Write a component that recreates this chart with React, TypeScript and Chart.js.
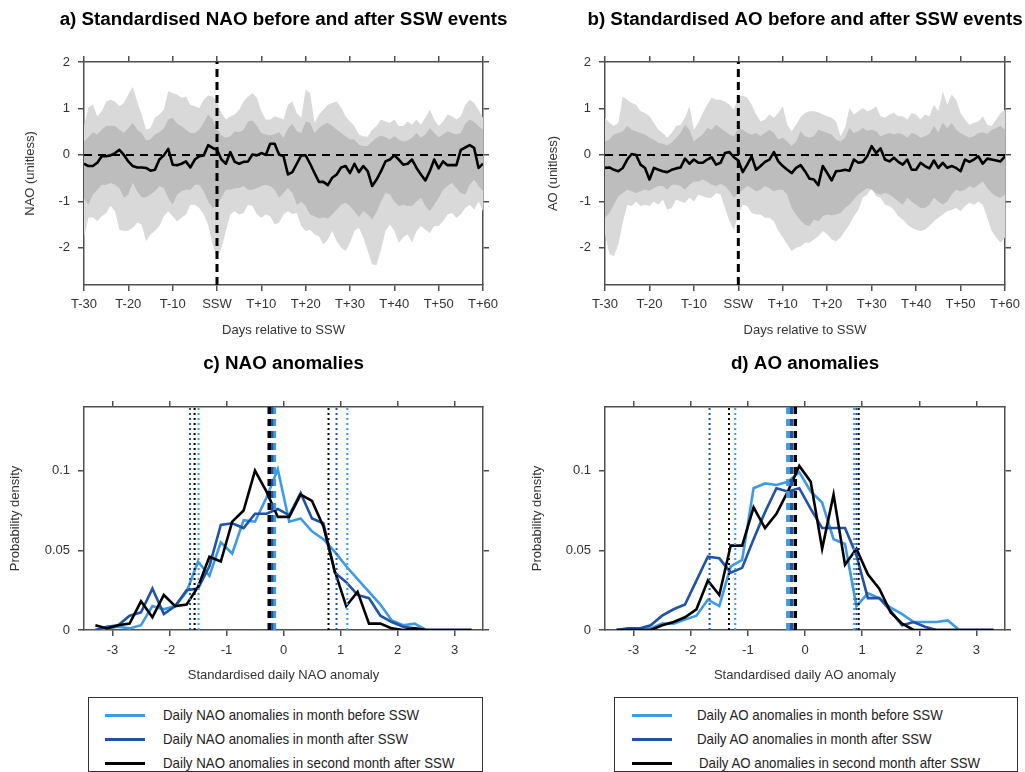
import React, { useEffect, useRef } from 'react';
import { Chart, registerables } from 'chart.js';

Chart.register(...registerables);

// ---------------- data ----------------
const DAYS = Array.from({ length: 91 }, (_, i) => i - 30);
const DAY_TICKS = [-30, -20, -10, 0, 10, 20, 30, 40, 50, 60];
const DAY_TICK_LABELS = ['T-30', 'T-20', 'T-10', 'SSW', 'T+10', 'T+20', 'T+30', 'T+40', 'T+50', 'T+60'];
const TS_Y_TICKS = [-2, -1, 0, 1, 2];
const TS_Y_TICK_LABELS = ['-2', '-1', '0', '1', '2'];
const TS_Y_MIN = -2.8;
const TS_Y_MAX = 2;
const SSW_DAY = 0;

const NAO_MEAN = [
  -0.19, -0.24, -0.24, -0.17, -0.03, -0.03, -0.01, 0.04, 0.11, 0.0,
  -0.14, -0.24, -0.27, -0.27, -0.28, -0.34, -0.32, -0.1, -0.01, 0.13,
  -0.21, -0.22, -0.19, -0.14, -0.27, -0.1, -0.03, -0.01, 0.21, 0.15,
  0.11, -0.1, -0.19, 0.06, -0.15, -0.19, -0.15, -0.14, 0.01, -0.01,
  0.04, 0.0, 0.24, 0.24, 0.01, -0.03, -0.42, -0.37, -0.19, -0.01,
  -0.01, -0.19, -0.39, -0.58, -0.58, -0.65, -0.49, -0.42, -0.27, -0.24,
  -0.39, -0.19, -0.37, -0.24, -0.35, -0.67, -0.53, -0.35, -0.14, -0.1,
  -0.01, -0.1, -0.21, -0.19, -0.1, -0.28, -0.42, -0.55, -0.35, -0.1,
  -0.29, -0.14, -0.22, -0.22, -0.22, 0.11, 0.16, 0.21, 0.15, -0.28,
  -0.19,
];
const NAO_INNER_UP = [
  0.29, 0.38, 0.49, 0.44, 0.54, 0.62, 0.63, 0.62, 0.54, 0.47,
  0.58, 0.69, 0.54, 0.47, 0.31, 0.33, 0.44, 0.49, 0.57, 0.76,
  0.8, 0.67, 0.62, 0.54, 0.47, 0.47, 0.54, 0.69, 0.87, 0.76,
  0.54, 0.42, 0.37, 0.4, 0.51, 0.49, 0.54, 0.72, 0.74, 0.62,
  0.47, 0.44, 0.42, 0.45, 0.49, 0.37, 0.57, 0.67, 0.51, 0.47,
  0.72, 0.69, 0.47, 0.58, 0.65, 0.69, 0.62, 0.54, 0.47, 0.4,
  0.33, 0.33, 0.22, 0.19, 0.19, 0.29, 0.37, 0.42, 0.38, 0.33,
  0.4, 0.33, 0.29, 0.31, 0.37, 0.47, 0.37, 0.44, 0.58, 0.47,
  0.38, 0.44, 0.51, 0.47, 0.44, 0.47, 0.67, 0.76, 0.71, 0.62,
  0.54,
];
const NAO_OUTER_UP = [
  0.62, 1.02, 1.08, 0.83, 0.94, 1.15, 1.19, 1.15, 1.05, 1.12,
  1.3, 1.46, 1.15, 0.87, 0.54, 0.58, 0.8, 0.87, 0.97, 1.37,
  1.33, 1.3, 1.23, 1.26, 1.08, 1.05, 1.01, 1.19, 1.28, 1.26,
  1.15, 0.9, 0.76, 0.83, 0.87, 0.97, 1.15, 1.26, 1.33, 1.23,
  0.94, 0.76, 0.76, 0.83, 0.8, 0.76, 1.08, 1.15, 0.9, 0.8,
  1.41, 1.33, 0.69, 0.87, 0.97, 1.08, 1.12, 1.15, 1.02, 0.83,
  0.72, 0.62, 0.44, 0.4, 0.39, 0.54, 0.62, 0.76, 0.72, 0.69,
  0.76, 0.62, 0.62, 0.72, 0.65, 0.76, 0.65, 0.8, 0.97, 0.76,
  0.62, 0.72, 0.87, 0.83, 0.76, 0.83, 1.08, 1.19, 1.12, 0.97,
  0.8,
];
const NAO_INNER_LO = [
  -0.92, -1.07, -0.85, -0.75, -0.64, -0.65, -0.6, -0.64, -0.72, -0.92,
  -0.85, -0.6, -0.78, -0.91, -0.91, -0.85, -0.78, -0.67, -0.71, -0.92,
  -1.07, -0.85, -0.78, -0.75, -0.75, -0.64, -0.64, -0.78, -1.0, -1.14,
  -1.1, -0.92, -0.75, -0.75, -0.72, -0.71, -0.67, -0.75, -0.75, -0.71,
  -0.67, -0.64, -0.67, -0.75, -0.92, -0.82, -0.71, -0.82, -1.07, -1.0,
  -1.1, -1.28, -1.32, -1.37, -1.34, -1.37, -1.28, -1.18, -1.07, -1.03,
  -1.1, -1.21, -1.34, -1.21, -1.28, -1.39, -1.23, -1.0, -0.82, -0.85,
  -1.0, -1.1, -1.07, -1.1, -1.1, -1.0, -0.92, -1.1, -1.21, -1.07,
  -0.92, -0.75, -0.67, -0.6, -0.71, -0.82, -0.85, -0.64, -0.53, -0.67,
  -0.78,
];
const NAO_OUTER_LO = [
  -1.78, -1.35, -1.34, -1.43, -1.32, -1.25, -1.1, -1.21, -1.61, -1.64,
  -1.63, -1.57, -1.46, -1.5, -1.86, -1.71, -1.64, -1.53, -1.32, -1.21,
  -1.32, -1.43, -1.35, -1.28, -1.07, -1.07, -1.14, -1.28, -1.5, -1.93,
  -2.22, -2.0, -1.64, -1.28, -1.21, -1.28, -1.25, -1.07, -1.1, -1.28,
  -1.35, -1.28, -1.32, -1.5, -1.46, -1.28, -1.21, -1.27, -1.25, -1.53,
  -1.64, -1.61, -1.71, -1.75, -1.93, -1.82, -1.64, -1.86, -2.0, -2.07,
  -1.89, -1.64, -1.57, -1.78, -2.07, -2.36, -2.37, -2.04, -1.64, -1.5,
  -1.64, -1.89, -1.78, -1.71, -1.89, -1.64, -1.53, -1.61, -1.68, -1.53,
  -1.53, -1.43, -1.28, -1.25, -1.35, -1.28, -1.14, -1.07, -1.18, -1.0,
  -1.21,
];

const AO_MEAN = [
  -0.28, -0.27, -0.32, -0.35, -0.28, -0.1, 0.02, 0.0, -0.21, -0.28,
  -0.53, -0.28, -0.32, -0.35, -0.37, -0.32, -0.29, -0.27, -0.08, -0.19,
  -0.1, -0.17, -0.17, -0.1, -0.05, -0.21, -0.17, 0.04, 0.06, -0.05,
  -0.12, -0.37, -0.21, -0.03, -0.32, -0.24, -0.15, -0.1, 0.06, -0.14,
  -0.24, -0.32, -0.39, -0.28, -0.22, -0.35, -0.51, -0.53, -0.65, -0.24,
  -0.39, -0.55, -0.35, -0.34, -0.32, -0.34, -0.1, -0.17, -0.15, -0.03,
  0.19, 0.04, 0.14, -0.1, -0.14, -0.06, -0.15, -0.21, -0.1, -0.32,
  -0.32, -0.17, -0.24, -0.29, -0.12, -0.28, -0.17, -0.28, -0.24, -0.28,
  -0.35, -0.1, -0.15, -0.1, -0.03, -0.19, -0.08, -0.1, -0.12, -0.14,
  -0.03,
];
const AO_INNER_UP = [
  0.29, 0.33, 0.44, 0.47, 0.51, 0.62, 0.54, 0.51, 0.47, 0.44,
  0.37, 0.33, 0.26, 0.24, 0.21, 0.26, 0.37, 0.47, 0.65, 0.54,
  0.29, 0.37, 0.44, 0.58, 0.54, 0.65, 0.58, 0.51, 0.44, 0.4,
  0.58, 0.54, 0.47, 0.44, 0.47, 0.4, 0.47, 0.54, 0.47, 0.33,
  0.37, 0.29, 0.19, 0.29, 0.51, 0.4, 0.37, 0.4, 0.54, 0.51,
  0.47, 0.44, 0.33, 0.29, 0.37, 0.58, 0.47, 0.51, 0.58, 0.52,
  0.54, 0.51, 0.4, 0.44, 0.47, 0.44, 0.47, 0.44, 0.37, 0.47,
  0.44, 0.37, 0.4, 0.45, 0.62, 0.49, 0.69, 0.58, 0.69, 0.54,
  0.47, 0.42, 0.37, 0.4, 0.47, 0.49, 0.45, 0.54, 0.58, 0.62,
  0.54,
];
const AO_OUTER_UP = [
  0.8, 0.69, 0.62, 0.69, 1.26, 1.19, 1.12, 1.08, 0.94, 0.9,
  0.83, 0.69, 0.54, 0.47, 0.37, 0.47, 0.62, 0.65, 0.8, 1.05,
  0.54, 0.69, 0.9, 1.08, 1.23, 1.19, 1.19, 1.15, 1.08, 0.97,
  1.26, 1.28, 1.23, 1.08, 0.87, 0.72, 0.76, 0.87, 0.8, 0.9,
  1.05, 0.65, 0.51, 0.65, 0.81, 0.9, 0.94, 0.94, 0.92, 0.87,
  0.83, 0.8, 0.72, 0.4, 0.58, 1.01, 0.87, 0.94, 1.01, 0.94,
  0.97, 1.05, 0.83, 0.8, 0.87, 0.9, 0.83, 0.83, 0.76, 0.9,
  0.87, 0.76, 0.87, 0.83, 1.08, 0.94, 1.37, 1.08, 1.3, 1.19,
  0.9, 0.76, 0.65, 0.69, 0.72, 0.83, 0.65, 0.62, 0.76, 0.9,
  0.97,
];
const AO_INNER_LO = [
  -1.35, -1.25, -1.07, -0.89, -0.82, -0.75, -0.78, -0.82, -0.78, -0.75,
  -0.77, -0.72, -0.67, -0.67, -0.75, -0.64, -0.64, -0.67, -0.75, -0.64,
  -0.57, -0.58, -0.53, -0.58, -0.64, -0.67, -0.62, -0.67, -0.78, -0.92,
  -0.82, -0.75, -0.67, -0.72, -0.78, -0.75, -0.67, -0.72, -0.78, -0.75,
  -0.75, -0.85, -1.14, -1.28, -1.41, -1.5, -1.53, -1.39, -1.43, -1.32,
  -1.28, -1.3, -1.28, -1.25, -1.14, -1.07, -0.96, -0.85, -0.78, -0.71,
  -0.75, -0.82, -0.85, -0.82, -0.85, -0.92, -1.0, -1.07, -0.92, -1.0,
  -1.07, -1.14, -1.14, -1.07, -0.92, -1.0, -1.07, -1.0, -0.85, -0.75,
  -0.78, -0.75, -0.67, -0.71, -0.64, -0.57, -0.71, -0.82, -0.89, -0.92,
  -0.85,
];
const AO_OUTER_LO = [
  -1.71, -2.14, -2.18, -1.93, -1.46, -1.07, -1.1, -1.0, -1.1, -1.07,
  -1.1, -1.0, -1.07, -0.96, -1.18, -1.14, -0.96, -1.0, -1.03, -0.92,
  -1.0, -0.85, -0.89, -0.92, -0.92, -0.82, -0.85, -1.14, -1.43, -1.61,
  -1.28, -1.07, -1.1, -1.25, -1.28, -1.28, -1.35, -1.35, -1.43, -1.64,
  -1.78, -1.93, -2.07, -2.0, -1.97, -1.89, -1.89, -1.82, -1.75, -1.64,
  -1.71, -1.82, -1.86, -1.78, -1.64, -1.5, -1.32, -1.18, -0.92, -0.85,
  -0.71, -0.89, -0.92, -1.07, -1.1, -1.18, -1.32, -1.39, -1.5, -1.57,
  -1.61, -1.64, -1.61, -1.53, -1.43, -1.35, -1.28, -1.21, -1.18, -1.14,
  -1.21, -1.1, -1.03, -1.07, -1.0, -1.07, -1.35, -1.64, -1.78, -1.89,
  -1.78,
];

// PDFs
const PDF_BINS = [
  -3.3, -3.1, -2.9, -2.7, -2.5, -2.3, -2.1, -1.9, -1.7, -1.5, -1.3, -1.1, -0.9, -0.7, -0.5, -0.3, -0.1,
  0.1, 0.3, 0.5, 0.7, 0.9, 1.1, 1.3, 1.5, 1.7, 1.9, 2.1, 2.3, 2.5, 2.7, 2.9, 3.1, 3.3,
];
const PDF_X_TICKS = [-3, -2, -1, 0, 1, 2, 3];
const PDF_X_TICK_LABELS = ['-3', '-2', '-1', '0', '1', '2', '3'];
const PDF_Y_TICKS = [0, 0.05, 0.1];
const PDF_Y_TICK_LABELS = ['0', '0.05', '0.1'];
const PDF_X_MIN = -3.5;
const PDF_X_MAX = 3.5;
const PDF_Y_MIN = 0;
const PDF_Y_MAX = 0.14;

const NAO_BEFORE = [
  0.0, 0.001, 0.002, 0.001, 0.003, 0.015, 0.013, 0.015, 0.024, 0.043,
  0.034, 0.055, 0.048, 0.069, 0.068, 0.083, 0.101, 0.068, 0.07, 0.062,
  0.057, 0.049, 0.04, 0.032, 0.024, 0.016, 0.006, 0.003, 0.004, 0.0,
  0, 0, 0, 0,
];
const NAO_AFTER = [
  0.0, 0.002, 0.003, 0.009, 0.011, 0.026, 0.01, 0.015, 0.025, 0.026,
  0.04, 0.066, 0.067, 0.064, 0.073, 0.073, 0.076, 0.072, 0.086, 0.07,
  0.067, 0.036, 0.03, 0.022, 0.02, 0.009, 0.005, 0.002, 0.001, 0,
  0, 0, 0, 0,
];
const NAO_SECOND = [
  0.003, 0.001, 0.003, 0.004, 0.018, 0.008, 0.022, 0.015, 0.016, 0.027,
  0.046, 0.043, 0.068, 0.075, 0.1, 0.087, 0.071, 0.071, 0.085, 0.081,
  0.065, 0.037, 0.015, 0.024, 0.004, 0.004, 0.001, 0.0, 0.001, 0,
  0, 0, 0, 0,
];
const AO_BEFORE = [
  0, 0, 0.001, 0.001, 0.004, 0.004, 0.0065, 0.009, 0.019, 0.015,
  0.04, 0.044, 0.089, 0.092, 0.091, 0.093, 0.099, 0.087, 0.08, 0.057,
  0.054, 0.015, 0.023, 0.02, 0.014, 0.01, 0.005, 0.005, 0.005, 0.006,
  0, 0, 0, 0,
];
const AO_AFTER = [
  0, 0.001, 0.001, 0.003, 0.009, 0.013, 0.016, 0.031, 0.046, 0.045,
  0.036, 0.039, 0.057, 0.074, 0.089, 0.087, 0.089, 0.076, 0.064, 0.064,
  0.064, 0.047, 0.02, 0.02, 0.012, 0.003, 0.005, 0.002, 0, 0,
  0, 0, 0, 0,
];
const AO_SECOND = [
  0, 0, 0, 0, 0.003, 0.005, 0.008, 0.013, 0.031, 0.022,
  0.053, 0.053, 0.077, 0.064, 0.073, 0.087, 0.103, 0.093, 0.051, 0.085,
  0.041, 0.051, 0.035, 0.026, 0.011, 0.004, 0, 0, 0, 0,
  0, 0, 0, 0,
];

// [before, after, second month after]
const NAO_MEANS = [-0.16, -0.21, -0.25];
const NAO_LOWER = [-1.49, -1.64, -1.56];
const NAO_UPPER = [1.12, 0.93, 0.79];
const AO_MEANS = [-0.3, -0.24, -0.17];
const AO_LOWER = [-1.22, -1.67, -1.33];
const AO_UPPER = [0.86, 0.9, 0.94];

const LEGEND_NAO = [
  'Daily NAO anomalies in month before SSW',
  'Daily NAO anomalies in month after SSW',
  'Daily NAO anomalies in second month after SSW',
];
const LEGEND_AO = [
  'Daily AO anomalies in month before SSW',
  'Daily AO anomalies in month after SSW',
  'Daily AO anomalies in second month after SSW',
];

// ---------------- styles ----------------
const FONT = "'Liberation Sans', Arial, Helvetica, sans-serif";
const FRAME = '#4f4f4f';
const TEXT = '#333333';
const OUTER_GREY = '#d9d9d9';
const INNER_GREY = '#bdbdbd';
const LIGHT_BLUE = '#3b9be8';
const DARK_BLUE = '#1f53a8';
const BLACK = '#000000';
const SERIES_COLORS = [LIGHT_BLUE, DARK_BLUE, BLACK];

const TITLE_SIZE = 18.8;
const TITLE_LH = TITLE_SIZE * 1.2;

function toPts(xs: number[], ys: number[]) {
  return ys.map((y, i) => ({ x: xs[i], y }));
}

function fixedTicks(values: number[]) {
  return (scale: any) => {
    scale.ticks = values.map((v) => ({ value: v }));
  };
}

interface AxisSpec {
  xMin: number; xMax: number; xTicks: number[]; xLabels: string[]; xTitle: string;
  yMin: number; yMax: number; yTicks: number[]; yLabels: string[]; yTitle: string;
  leftW: number; rightW: number; topH: number; bottomH: number;
  titlePadTop: number; xLabelPad: number; xTitlePad: number; yTitlePad: number;
}

function makeScales(o: AxisSpec) {
  const grid = { drawOnChartArea: false, drawTicks: true, tickLength: 6, color: FRAME, lineWidth: 1.5 };
  const border = { display: true, color: FRAME, width: 1.5 };
  const tickFont = { family: FONT, size: 13 };
  const titleFont = { family: FONT, size: 13 };
  return {
    x: {
      type: 'linear', axis: 'x', position: 'bottom', min: o.xMin, max: o.xMax, z: 1, grid, border,
      afterBuildTicks: fixedTicks(o.xTicks),
      ticks: {
        autoSkip: false, maxRotation: 0, minRotation: 0, padding: o.xLabelPad, color: TEXT, font: tickFont,
        callback: (_v: any, i: number) => o.xLabels[i],
      },
      title: { display: true, text: o.xTitle, color: TEXT, font: titleFont, padding: { top: 0, bottom: o.xTitlePad } },
      afterFit: (s: any) => { s.height = o.bottomH; },
    },
    xTop: {
      type: 'linear', axis: 'x', position: 'top', min: o.xMin, max: o.xMax, z: 1, grid, border,
      afterBuildTicks: fixedTicks(o.xTicks),
      ticks: { display: false },
      afterFit: (s: any) => { s.height = o.topH - (o.titlePadTop + TITLE_LH); },
    },
    y: {
      type: 'linear', axis: 'y', position: 'left', min: o.yMin, max: o.yMax, z: 1, grid, border,
      afterBuildTicks: fixedTicks(o.yTicks),
      ticks: {
        autoSkip: false, padding: 8, color: TEXT, font: tickFont,
        callback: (_v: any, i: number) => o.yLabels[i],
      },
      title: { display: true, text: o.yTitle, color: TEXT, font: titleFont, padding: { top: o.yTitlePad, bottom: 0 } },
      afterFit: (s: any) => { s.width = o.leftW; },
    },
    yRight: {
      type: 'linear', axis: 'y', position: 'right', min: o.yMin, max: o.yMax, z: 1, grid, border,
      afterBuildTicks: fixedTicks(o.yTicks),
      ticks: { display: false },
      afterFit: (s: any) => { s.width = o.rightW; },
    },
  };
}

function baseOptions(title: string, titlePadTop: number, scales: any) {
  return {
    responsive: false,
    animation: false,
    devicePixelRatio: 1,
    events: [],
    layout: { padding: 0 },
    plugins: {
      legend: { display: false },
      tooltip: { enabled: false },
      title: {
        display: true, text: title, fullSize: true, color: '#000',
        font: { family: FONT, size: TITLE_SIZE, weight: 'bold', lineHeight: 1.2 },
        padding: { top: titlePadTop, bottom: 0 },
      },
    },
    scales,
  };
}

const hidden = { borderColor: 'rgba(0,0,0,0)', borderWidth: 0, pointRadius: 0 };

function tsConfig(p: {
  title: string; yTitle: string; mean: number[]; innerUp: number[]; innerLo: number[];
  outerUp: number[]; outerLo: number[]; leftW: number; rightW: number; yTitlePad: number;
}) {
  const titlePadTop = 19.5 - TITLE_LH / 2;
  const scales = makeScales({
    xMin: DAYS[0], xMax: DAYS[DAYS.length - 1], xTicks: DAY_TICKS, xLabels: DAY_TICK_LABELS, xTitle: 'Days relative to SSW',
    yMin: TS_Y_MIN, yMax: TS_Y_MAX, yTicks: TS_Y_TICKS, yLabels: TS_Y_TICK_LABELS, yTitle: p.yTitle,
    leftW: p.leftW, rightW: p.rightW, topH: 62, bottomH: 55,
    titlePadTop, xLabelPad: 5.2, xTitlePad: 2.2, yTitlePad: p.yTitlePad,
  });
  return {
    type: 'line',
    data: {
      datasets: [
        { data: toPts(DAYS, p.mean), borderColor: BLACK, borderWidth: 2.6, pointRadius: 0, fill: false, tension: 0, borderJoinStyle: 'round' },
        { data: [{ x: DAYS[0], y: 0 }, { x: DAYS[DAYS.length - 1], y: 0 }], borderColor: BLACK, borderWidth: 2, borderDash: [8, 6], pointRadius: 0, fill: false },
        { data: [{ x: SSW_DAY, y: TS_Y_MIN }, { x: SSW_DAY, y: TS_Y_MAX }], borderColor: BLACK, borderWidth: 3, borderDash: [8, 5], pointRadius: 0, fill: false },
        { data: toPts(DAYS, p.innerUp), ...hidden, fill: 4, backgroundColor: INNER_GREY },
        { data: toPts(DAYS, p.innerLo), ...hidden, fill: false },
        { data: toPts(DAYS, p.outerUp), ...hidden, fill: 6, backgroundColor: OUTER_GREY },
        { data: toPts(DAYS, p.outerLo), ...hidden, fill: false },
      ],
    },
    options: baseOptions(p.title, titlePadTop, scales),
  };
}

function pdfConfig(p: {
  title: string; xTitle: string; series: number[][]; means: number[]; lower: number[]; upper: number[];
  leftW: number; rightW: number; yTitlePad: number;
}) {
  const titlePadTop = 24 - TITLE_LH / 2;
  const scales = makeScales({
    xMin: PDF_X_MIN, xMax: PDF_X_MAX, xTicks: PDF_X_TICKS, xLabels: PDF_X_TICK_LABELS, xTitle: p.xTitle,
    yMin: PDF_Y_MIN, yMax: PDF_Y_MAX, yTicks: PDF_Y_TICKS, yLabels: PDF_Y_TICK_LABELS, yTitle: 'Probability density',
    leftW: p.leftW, rightW: p.rightW, topH: 67, bottomH: 60,
    titlePadTop, xLabelPad: 6.2, xTitlePad: 7.2, yTitlePad: p.yTitlePad,
  });
  const vline = (x: number, color: string, dashed: boolean) => ({
    data: [{ x, y: PDF_Y_MIN }, { x, y: PDF_Y_MAX }],
    borderColor: color,
    borderWidth: dashed ? 3.5 : 2,
    borderDash: dashed ? [7, 5] : [2, 3],
    borderCapStyle: 'butt',
    pointRadius: 0,
    fill: false,
  });
  const datasets: any[] = [];
  // draw order: dataset 0 on top
  [2, 1, 0].forEach((k) => datasets.push(vline(p.means[k], SERIES_COLORS[k], true)));
  [2, 1, 0].forEach((k) => datasets.push(vline(p.lower[k], SERIES_COLORS[k], false)));
  [2, 1, 0].forEach((k) => datasets.push(vline(p.upper[k], SERIES_COLORS[k], false)));
  [2, 1, 0].forEach((k) =>
    datasets.push({
      data: toPts(PDF_BINS, p.series[k]), borderColor: SERIES_COLORS[k], borderWidth: 2.6,
      pointRadius: 0, fill: false, tension: 0, borderJoinStyle: 'miter',
    }),
  );
  return { type: 'line', data: { datasets }, options: baseOptions(p.title, titlePadTop, scales) };
}

function ChartCanvas({ config, left, top, width, height }: { config: any; left: number; top: number; width: number; height: number }) {
  const ref = useRef<HTMLCanvasElement | null>(null);
  useEffect(() => {
    if (!ref.current) return;
    const chart = new Chart(ref.current, config);
    return () => chart.destroy();
  }, [config]);
  return (
    <canvas
      ref={ref}
      width={width}
      height={height}
      style={{ position: 'absolute', left, top, width, height, display: 'block' }}
    />
  );
}

function LegendBox({ left, top, width, height, labels, sampleX, textX, textX3 }: {
  left: number; top: number; width: number; height: number; labels: string[]; sampleX: number; textX: number; textX3: number;
}) {
  const rows = [17, 41, 65];
  return (
    <div
      style={{
        position: 'absolute', left, top, width, height, boxSizing: 'border-box',
        border: '1.5px solid #333', background: '#fff',
      }}
    >
      {labels.map((lab, i) => (
        <React.Fragment key={i}>
          <div
            style={{
              position: 'absolute', left: sampleX, top: rows[i] - 1.5, width: 40, height: 3,
              background: SERIES_COLORS[i],
            }}
          />
          <div
            style={{
              position: 'absolute', left: i === 2 ? textX3 : textX, top: rows[i] - 9, height: 18, lineHeight: '18px',
              fontFamily: FONT, fontSize: 15, color: '#222', whiteSpace: 'nowrap',
              transform: 'scaleX(0.885)', transformOrigin: 'left center',
            }}
          >
            {lab}
          </div>
        </React.Fragment>
      ))}
    </div>
  );
}

// canvases are sized so that their centre equals the plot-area centre (titles centred over plots)
const CFG_A = tsConfig({
  title: 'a) Standardised NAO before and after SSW events', yTitle: 'NAO (unitless)',
  mean: NAO_MEAN, innerUp: NAO_INNER_UP, innerLo: NAO_INNER_LO, outerUp: NAO_OUTER_UP, outerLo: NAO_OUTER_LO,
  leftW: 84, rightW: 84, yTitlePad: 22.2,
});
const CFG_B = tsConfig({
  title: 'b) Standardised AO before and after SSW events', yTitle: 'AO (unitless)',
  mean: AO_MEAN, innerUp: AO_INNER_UP, innerLo: AO_INNER_LO, outerUp: AO_OUTER_UP, outerLo: AO_OUTER_LO,
  leftW: 93, rightW: 93, yTitlePad: 33.2,
});
const CFG_C = pdfConfig({
  title: 'c) NAO anomalies', xTitle: 'Standardised daily NAO anomaly',
  series: [NAO_BEFORE, NAO_AFTER, NAO_SECOND], means: NAO_MEANS, lower: NAO_LOWER, upper: NAO_UPPER,
  leftW: 84, rightW: 84, yTitlePad: 7.7,
});
const CFG_D = pdfConfig({
  title: 'd) AO anomalies', xTitle: 'Standardised daily AO anomaly',
  series: [AO_BEFORE, AO_AFTER, AO_SECOND], means: AO_MEANS, lower: AO_LOWER, upper: AO_UPPER,
  leftW: 93, rightW: 93, yTitlePad: 17.2,
});

export default function App() {
  return (
    <div style={{ position: 'absolute', left: 0, top: 0, width: 1025, height: 772, background: '#fff', overflow: 'hidden' }}>
      <ChartCanvas config={CFG_A} left={0} top={0} width={567} height={340} />
      <ChartCanvas config={CFG_B} left={512} top={0} width={586} height={340} />
      <ChartCanvas config={CFG_C} left={0} top={340} width={567} height={350} />
      <ChartCanvas config={CFG_D} left={512} top={340} width={586} height={350} />
      <LegendBox left={88} top={697} width={395} height={75} labels={LEGEND_NAO} sampleX={16} textX={74} textX3={74} />
      <LegendBox left={614} top={697} width={404} height={75} labels={LEGEND_AO} sampleX={17} textX={82} textX3={84} />
    </div>
  );
}
